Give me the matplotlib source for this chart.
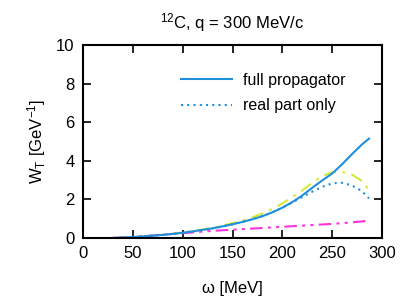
import matplotlib
matplotlib.use("Agg")
import matplotlib.pyplot as plt
import numpy as np

plt.rcParams['font.family'] = ['Liberation Sans', 'DejaVu Sans']
plt.rcParams['mathtext.fontset'] = 'custom'
plt.rcParams['mathtext.rm'] = 'Liberation Sans'
plt.rcParams['mathtext.it'] = 'Liberation Sans:italic'

omega = [30, 40, 50, 60, 70, 80, 90, 100, 110, 120, 130, 140, 150, 160, 170,
         180, 190, 200, 210, 220, 230, 240, 250, 260, 270, 280, 287]
full = [0.0, 0.02, 0.05, 0.08, 0.12, 0.16, 0.21, 0.27, 0.34, 0.42, 0.50, 0.60, 0.71,
        0.83, 0.97, 1.13, 1.33, 1.57, 1.86, 2.20, 2.60, 2.98, 3.34, 3.82, 4.35, 4.85, 5.15]
real = [0.0, 0.02, 0.05, 0.08, 0.12, 0.16, 0.21, 0.27, 0.34, 0.42, 0.50, 0.60, 0.71,
        0.83, 0.97, 1.13, 1.33, 1.57, 1.84, 2.12, 2.40, 2.65, 2.83, 2.86, 2.72, 2.42, 2.05]
other1 = [0.0, 0.02, 0.05, 0.08, 0.12, 0.17, 0.22, 0.28, 0.36, 0.44, 0.53, 0.64, 0.77,
          0.91, 1.07, 1.27, 1.51, 1.79, 2.11, 2.47, 2.86, 3.20, 3.41, 3.43, 3.28, 2.95, 2.49]
other2 = [0.0, 0.02, 0.05, 0.09, 0.13, 0.17, 0.21, 0.25, 0.29, 0.33, 0.37, 0.40, 0.43,
          0.46, 0.49, 0.52, 0.55, 0.58, 0.61, 0.64, 0.67, 0.70, 0.73, 0.77, 0.81, 0.86, 0.90]

fig = plt.figure(figsize=(4.0, 3.02), dpi=100)
ax = fig.add_axes([0.2075, 0.212, 0.7475, 0.639])

blue = '#1f8fdb'
ax.plot(omega, other1, color='#d4ea3a', lw=1.5, dashes=(6, 3, 1.5, 3))
ax.plot(omega, other2, color='#ff33dd', lw=1.5, dashes=(6, 2.5, 1.5, 2.5, 1.5, 2.5))
ax.plot(omega, real, color=blue, lw=1.5, linestyle=(0, (1, 2)), label='real part only')
ax.plot(omega, full, color=blue, lw=1.5, label='full propagator')

h, l = ax.get_legend_handles_labels()
ax.legend(h[::-1], l[::-1], loc='upper left', frameon=False, fontsize=11.5,
          handlelength=3.2, handletextpad=0.7, bbox_to_anchor=(0.28, 0.93),
          labelspacing=0.65, borderpad=0.4)

ax.set_xlim(0, 300)
ax.set_ylim(0, 10)
ax.set_xticks([0, 50, 100, 150, 200, 250, 300])
ax.set_yticks([0, 2, 4, 6, 8, 10])
ax.tick_params(direction='in', top=True, right=True, length=6, width=1.2, labelsize=12, pad=6)
for s in ax.spines.values():
    s.set_linewidth(1.5)
ax.set_xlabel('ω [MeV]', fontsize=12, labelpad=14)
ax.set_ylabel('W$_\\mathrm{T}$ [GeV$^{-1}$]', fontsize=12, labelpad=6)
ax.set_title('$^{12}$C, q = 300 MeV/c', fontsize=12, pad=12)

fig.savefig('out.png', dpi=100)
